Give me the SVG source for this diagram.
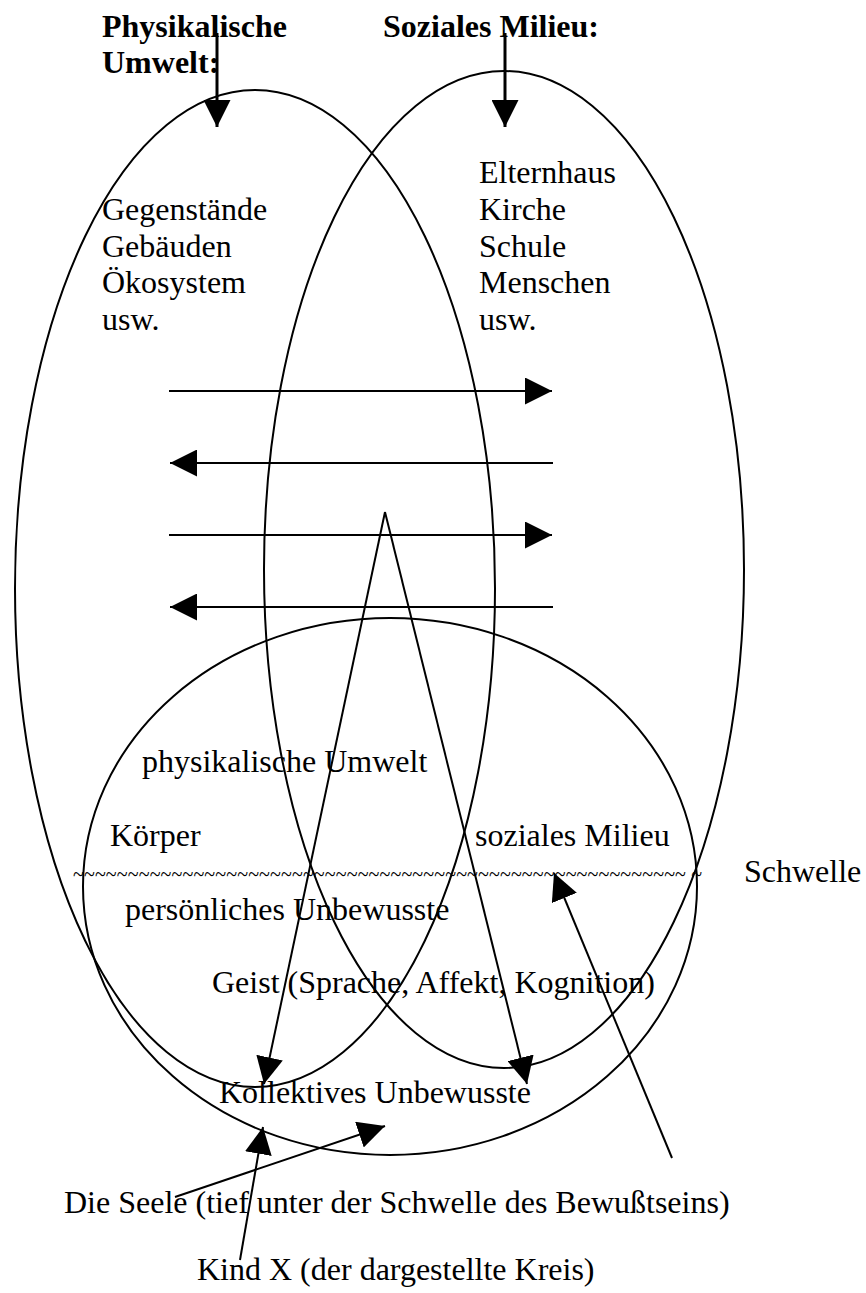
<svg xmlns="http://www.w3.org/2000/svg" width="866" height="1293" viewBox="0 0 866 1293">
<style>
.shape{fill:none;stroke:#000;stroke-width:2}
.conn{fill:none;stroke:#000;stroke-width:2}
.thick{stroke-width:3}
.t{font-family:"Liberation Serif","Times New Roman",serif;font-size:32px;fill:#000}
.b{font-weight:bold}
.tilde{font-family:"Liberation Serif","Times New Roman",serif;font-size:20px;fill:#000}
</style>
<defs>
<marker id="ah" markerUnits="userSpaceOnUse" markerWidth="27" markerHeight="27" refX="27" refY="13.5" orient="auto" viewBox="0 0 27 27">
<path d="M0,0 L27,13.5 L0,27 z" fill="#000"/>
</marker>
</defs>
<rect width="866" height="1293" fill="#fff"/>
<g id="physikalische-umwelt">
<ellipse class="shape" cx="255" cy="588.5" rx="240" ry="498.5"/>
<text class="t b" x="102" y="37">Physikalische</text>
<text class="t b" x="102" y="73">Umwelt:</text>
<text class="t" x="102" y="220">Gegenstände</text>
<text class="t" x="102" y="257">Gebäuden</text>
<text class="t" x="102" y="293">Ökosystem</text>
<text class="t" x="102" y="330">usw.</text>
</g>
<g id="soziales-milieu">
<ellipse class="shape" cx="504" cy="569.5" rx="240" ry="498.5"/>
<text class="t b" x="383" y="37">Soziales Milieu:</text>
<text class="t" x="479" y="183">Elternhaus</text>
<text class="t" x="479" y="220">Kirche</text>
<text class="t" x="479" y="257">Schule</text>
<text class="t" x="479" y="293">Menschen</text>
<text class="t" x="479" y="330">usw.</text>
</g>
<g id="kind-x">
<ellipse class="shape" cx="390" cy="886.5" rx="307" ry="268.5"/>
<text class="t" x="142" y="772">physikalische Umwelt</text>
<text class="t" x="110" y="846">Körper</text>
<text class="t" x="475" y="846">soziales Milieu</text>
<text class="tilde" x="73" y="881" textLength="629" lengthAdjust="spacing">~~~~~~~~~~~~~~~~~~~~~~~~~~~~~~~~~~~~~~~~~~~~~~~~~~~~~~~~ ~</text>
<text class="t" x="125" y="920">persönliches Unbewusste</text>
<text class="t" x="212" y="993">Geist (Sprache, Affekt, Kognition)</text>
<text class="t" x="219" y="1103">Kollektives Unbewusste</text>
</g>
<g id="labels">
<text class="t" x="744" y="882">Schwelle</text>
<text class="t" x="64" y="1213">Die Seele (tief unter der Schwelle des Bewußtseins)</text>
<text class="t" x="197" y="1280">Kind X (der dargestellte Kreis)</text>
</g>
<g id="connectors">
<line class="conn thick" x1="217" y1="33" x2="217" y2="127" marker-end="url(#ah)"/>
<line class="conn thick" x1="505" y1="33" x2="505" y2="127" marker-end="url(#ah)"/>
<line class="conn" x1="169" y1="391" x2="552" y2="391" marker-end="url(#ah)"/>
<line class="conn" x1="553" y1="463" x2="170" y2="463" marker-end="url(#ah)"/>
<line class="conn" x1="169" y1="535" x2="552" y2="535" marker-end="url(#ah)"/>
<line class="conn" x1="553" y1="607" x2="170" y2="607" marker-end="url(#ah)"/>
<line class="conn" x1="385" y1="512" x2="264" y2="1084" marker-end="url(#ah)"/>
<line class="conn" x1="385" y1="512" x2="527" y2="1084" marker-end="url(#ah)"/>
<line class="conn" x1="672" y1="1158" x2="554" y2="873" marker-end="url(#ah)"/>
<line class="conn" x1="175" y1="1197" x2="385" y2="1126" marker-end="url(#ah)"/>
<line class="conn" x1="240" y1="1260" x2="263" y2="1127" marker-end="url(#ah)"/>
</g>
</svg>
